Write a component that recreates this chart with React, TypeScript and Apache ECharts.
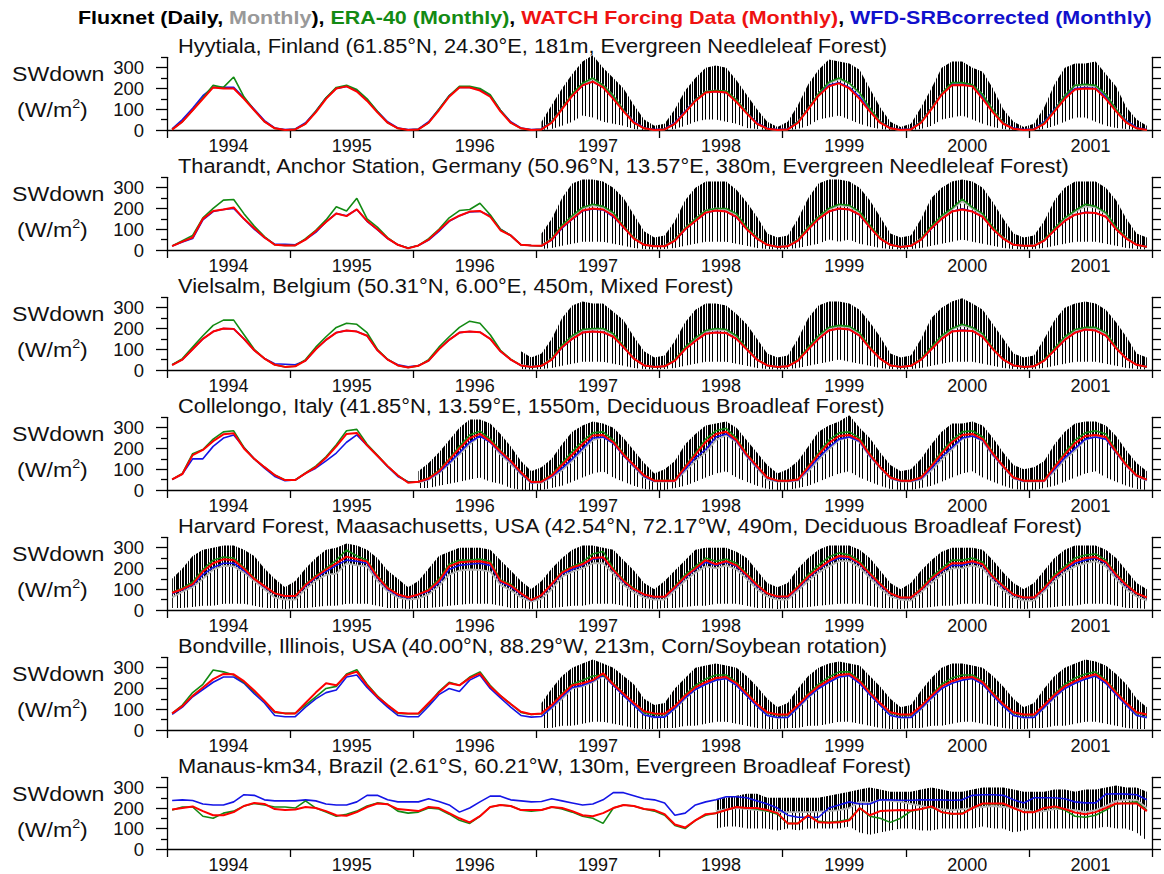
import React, { useEffect, useRef } from "react";
import * as echarts from "echarts";

// ---------- axes ----------
const YEARS = [1994, 1995, 1996, 1997, 1998, 1999, 2000, 2001];
const YEAR_BOUNDS = [1994, 1995, 1996, 1997, 1998, 1999, 2000, 2001, 2002];
const Y_LABELS = [0, 100, 200, 300];
const Y_MINOR = [50, 150, 250, 350];
const Y_RIGHT = [0, 50, 100, 150, 200, 250, 300, 350];

const TITLES = [
  "Hyytiala, Finland (61.85°N, 24.30°E, 181m, Evergreen Needleleaf Forest)",
  "Tharandt, Anchor Station, Germany (50.96°N, 13.57°E, 380m, Evergreen Needleleaf Forest)",
  "Vielsalm, Belgium (50.31°N, 6.00°E, 450m, Mixed Forest)",
  "Collelongo, Italy (41.85°N, 13.59°E, 1550m, Deciduous Broadleaf Forest)",
  "Harvard Forest, Maasachusetts, USA (42.54°N, 72.17°W, 490m, Deciduous Broadleaf Forest)",
  "Bondville, Illinois, USA (40.00°N, 88.29°W, 213m, Corn/Soybean rotation)",
  "Manaus-km34, Brazil (2.61°S, 60.21°W, 130m, Evergreen Broadleaf Forest)",
];

// ---------- monthly values, Jan 1994 .. Dec 2001 (one line per year), "-" = no data ----------
// RED = WATCH, GREEN = ERA-40, BLUE = WFD-SRBcorrected, GRAY = Fluxnet monthly,
// HI / LO = range of the Fluxnet daily values within each month
// Hyytiala
const HYY_RED = `
2 40 95 150 205 200 200 150 95 40 8 0
3 30 85 150 200 210 185 140 85 35 8 0
3 35 95 160 205 205 190 160 90 35 8 0
3 35 100 165 215 233 205 150 90 35 8 0
3 30 85 140 180 185 180 135 80 30 6 0
3 35 100 165 210 225 200 150 90 35 8 0
3 35 100 170 215 217 210 150 85 30 6 0
3 30 90 150 195 200 198 150 90 35 8 0`;
const HYY_GREEN = `
3 40 95 155 215 205 255 160 95 40 8 0
3 30 90 155 205 215 195 150 90 35 8 0
3 35 100 165 210 210 200 170 95 35 8 0
3 40 105 175 225 250 215 165 95 35 8 0
3 30 85 145 185 190 188 145 85 30 6 0
3 40 105 175 230 250 225 180 105 40 8 0
3 40 105 175 228 228 218 170 95 35 6 0
3 35 95 165 215 220 215 170 100 40 8 0`;
const HYY_BLUE = `
5 50 105 165 205 205 205 155 100 45 10 2
5 35 90 155 200 210 190 145 90 40 10 2
5 40 100 165 205 205 195 165 95 40 10 2
5 40 105 165 215 232 205 155 95 40 10 2
5 35 90 145 183 185 180 140 85 35 8 2
5 40 105 170 215 228 205 160 95 40 10 2
5 40 105 175 220 220 212 160 90 35 10 2
5 40 100 160 200 205 200 160 95 45 12 2`;
const HYY_GRAY = `
- - - - - - - - - - - -
- - - - - - - - - - - -
- - - - - - - - - - - -
3 40 105 170 220 245 215 165 95 40 8 0
3 35 90 145 185 190 185 145 85 30 6 0
3 40 105 175 225 245 225 175 100 40 8 0
3 40 105 175 225 225 215 170 95 35 6 0
3 35 95 165 215 215 210 170 100 40 8 0`;
const HYY_HI = `
- - - - - - - - - - - -
- - - - - - - - - - - -
- - - - - - - - - - - -
40 120 200 270 330 360 300 250 200 120 50 20
30 100 190 250 300 310 300 240 170 100 40 15
40 120 220 290 340 330 320 290 200 110 40 15
30 110 200 300 330 330 300 280 200 100 40 15
30 110 220 300 320 320 330 270 210 110 50 20`;
const HYY_LO = `
- - - - - - - - - - - -
- - - - - - - - - - - -
- - - - - - - - - - - -
0 5 20 40 70 60 40 30 20 5 0 0
0 5 20 40 50 50 40 30 10 5 0 0
0 5 20 50 60 70 50 30 15 5 0 0
0 5 20 50 60 70 50 30 15 5 0 0
0 5 20 40 60 60 40 20 10 5 0 0`;

// Tharandt
const THA_RED = `
19 40 60 150 188 195 205 150 105 60 25 22
22 50 90 135 176 163 196 140 100 56 25 8
22 50 95 140 165 185 188 160 95 70 25 22
20 50 110 150 190 200 195 165 110 55 25 18
18 45 100 140 180 190 185 160 100 55 25 15
18 45 100 150 185 200 195 170 110 55 25 15
20 50 105 150 185 195 185 160 100 55 25 20
20 45 95 140 170 180 178 160 100 55 25 15`;
const THA_GREEN = `
20 45 70 155 200 240 243 175 115 65 25 22
22 55 95 145 208 188 249 150 110 60 25 10
22 55 100 155 190 195 225 170 100 70 25 22
20 55 120 165 205 220 210 180 115 60 25 18
18 50 105 150 190 200 200 175 110 60 25 15
18 50 110 160 200 220 215 185 120 60 25 15
20 55 115 165 200 245 205 175 110 60 25 20
20 50 105 155 190 220 210 180 110 60 25 15`;
const THA_BLUE = `
19 38 55 145 185 195 200 150 100 60 28 28
25 50 85 135 176 165 195 138 98 55 25 10
22 48 90 138 165 183 186 165 100 70 25 22
20 48 105 148 188 198 193 160 108 55 25 18
18 45 98 140 178 190 185 158 100 55 25 15
18 45 100 148 185 198 195 168 110 55 25 15
20 50 103 150 185 198 185 160 100 55 25 20
20 45 95 140 170 182 178 160 100 55 25 15`;
const THA_GRAY = `
- - - - - - - - - - - -
- - - - - - - - - - - -
- - - - - - - - - - - -
22 55 115 160 200 215 205 175 110 60 25 18
20 50 105 150 190 200 195 170 105 60 25 15
20 50 110 160 195 215 210 180 115 60 25 15
22 55 110 160 195 235 200 170 105 60 25 20
22 50 100 150 185 210 205 175 105 60 25 15`;
const THA_HI = `
- - - - - - - - - - - -
- - - - - - - - - - - -
- - - - - - - - - - - -
80 150 250 320 340 340 330 300 250 170 90 60
70 140 240 300 330 330 330 290 230 160 80 60
70 150 250 320 340 340 330 300 240 160 80 60
70 150 250 300 330 340 330 300 230 150 80 60
70 140 240 300 330 330 330 300 240 150 80 60`;
const THA_LO = `
- - - - - - - - - - - -
- - - - - - - - - - - -
- - - - - - - - - - - -
5 10 20 30 40 40 40 30 20 10 5 3
5 10 20 30 40 40 40 30 20 10 5 3
5 10 20 30 50 40 50 30 20 10 5 3
5 10 20 30 40 50 40 30 20 10 5 3
5 10 20 30 40 40 40 30 20 10 5 3`;

// Vielsalm
const VIE_RED = `
24 50 100 150 185 200 198 150 95 55 25 15
18 45 100 145 180 190 185 165 95 50 22 12
20 45 100 145 180 185 182 150 90 50 22 15
20 50 110 150 180 185 182 160 110 55 22 15
18 45 100 140 175 180 178 150 100 50 22 15
18 45 100 150 190 200 195 165 105 55 22 15
20 50 100 150 185 190 188 160 100 50 22 15
18 45 95 145 180 195 190 165 105 55 25 15`;
const VIE_GREEN = `
25 55 110 165 215 240 240 170 100 55 25 15
18 50 110 160 205 225 220 180 100 52 22 12
20 50 110 160 205 235 225 170 95 52 22 15
20 55 120 165 195 200 200 175 115 55 22 15
18 50 110 155 190 200 195 165 105 52 22 15
18 50 110 165 205 215 210 180 110 55 22 15
20 55 110 165 200 220 205 175 105 52 22 15
18 50 105 160 195 205 205 180 110 55 25 15`;
const VIE_BLUE = `
25 50 100 150 185 200 198 150 95 55 30 28
25 45 100 145 180 190 185 165 95 50 25 15
22 45 100 145 180 185 182 150 90 50 22 15
20 50 108 150 180 185 182 160 108 55 22 15
18 45 100 140 175 182 178 150 100 50 22 15
18 45 100 150 190 200 195 165 105 55 22 15
20 50 100 150 185 192 188 160 100 50 22 15
18 45 95 145 180 195 190 165 105 55 25 15`;
const VIE_GRAY = `
- - - - - - - - - - - -
- - - - - - - - - - - -
- - - - - - - - - - 25 15
20 55 115 160 190 195 195 170 112 55 22 15
18 48 105 150 185 195 190 160 102 50 22 15
18 48 105 160 200 210 205 175 108 55 22 15
20 52 105 160 195 215 200 170 102 50 22 15
18 48 100 155 190 200 200 175 108 55 25 15`;
const VIE_HI = `
- - - - - - - - - - - -
- - - - - - - - - - - -
- - - - - - - - - - 90 60
80 150 250 310 330 320 320 280 240 160 90 60
70 140 230 290 320 320 310 270 220 150 80 60
70 150 250 310 330 330 320 290 230 160 80 60
70 150 250 300 330 345 320 290 220 150 80 60
70 150 240 300 320 330 320 290 230 160 80 60`;
const VIE_LO = `
- - - - - - - - - - - -
- - - - - - - - - - - -
- - - - - - - - - - 5 3
5 10 20 30 40 40 40 30 20 10 5 3
5 10 20 30 40 40 40 30 20 10 5 3
5 10 20 30 40 50 40 30 20 10 5 3
5 10 20 30 40 40 40 30 20 10 5 3
5 10 20 30 40 40 40 30 20 10 5 3`;

// Collelongo
const COL_RED = `
51 77 168 193 235 268 273 200 150 110 72 48
48 80 110 155 210 270 275 215 165 115 70 35
40 55 90 145 200 250 270 235 185 140 85 38
40 70 120 170 220 262 265 230 170 120 70 45
45 45 110 170 230 270 280 240 170 115 60 45
45 50 110 170 225 260 265 240 170 110 60 45
45 60 115 175 230 265 270 245 175 115 60 45
45 45 110 170 225 260 265 255 185 120 70 50`;
const COL_GREEN = `
51 80 175 195 245 280 285 205 150 110 72 48
48 82 115 160 218 285 292 220 168 115 70 38
40 58 95 150 210 265 283 245 190 140 85 40
42 75 130 185 235 275 280 240 175 120 70 45
45 48 115 180 245 285 297 250 175 115 60 45
45 52 115 180 240 275 280 250 175 110 62 45
45 62 120 185 240 280 285 255 180 115 62 45
45 48 115 180 240 275 285 270 190 125 72 50`;
const COL_BLUE = `
50 77 150 150 210 250 265 205 150 105 65 45
48 80 105 140 178 230 265 215 165 112 65 40
40 52 85 130 180 230 260 230 180 135 80 35
40 65 105 150 200 250 255 225 165 115 65 42
42 45 100 155 195 255 270 235 165 110 58 42
42 48 100 155 205 245 255 235 165 108 58 42
42 55 105 160 205 250 260 240 170 112 58 42
42 45 100 155 200 245 255 245 180 118 68 48`;
const COL_GRAY = `
- - - - - - - - - - - -
- - - - - - - - - - - -
35 50 80 125 170 220 260 230 170 125 75 35
35 60 95 140 190 240 255 225 165 110 60 40
40 42 90 140 180 240 265 230 160 105 50 40
40 45 90 145 195 240 255 230 160 105 55 40
40 50 95 145 195 245 260 235 165 110 55 40
40 42 90 145 190 240 260 245 180 115 65 45`;
const COL_HI = `
- - - - - - - - - - - -
- - - - - - - - - - - -
90 130 180 240 300 340 340 320 270 210 140 90
110 150 220 280 310 330 320 300 250 190 130 80
100 140 220 270 310 320 330 300 240 180 120 80
100 140 210 280 310 330 360 300 250 180 120 90
100 150 220 280 320 320 330 310 250 180 120 100
110 140 220 280 320 330 330 310 260 190 130 90`;
const COL_LO = `
- - - - - - - - - - - -
- - - - - - - - - - - -
10 10 20 30 40 50 60 40 30 10 0 0
0 10 20 40 60 80 90 60 40 20 5 0
0 10 20 40 60 80 90 60 40 20 5 0
0 10 20 40 60 80 90 60 40 20 5 0
0 10 20 40 60 80 90 60 40 20 5 0
0 10 20 40 60 80 90 60 40 20 5 0`;

// Harvard Forest
const HAR_RED = `
83 100 125 185 225 244 240 200 150 115 80 67
67 120 160 195 225 257 245 233 160 105 75 61
75 95 140 210 230 233 235 225 140 118 80 48
72 125 180 205 220 250 254 193 140 100 75 64
64 110 160 200 240 220 235 215 170 120 80 65
65 110 160 200 235 260 255 225 175 125 80 60
60 100 150 190 225 225 235 220 160 115 75 60
60 105 160 200 235 250 255 230 170 120 80 60`;
const HAR_GREEN = `
85 105 135 195 240 255 250 205 155 115 80 67
67 125 165 200 240 289 260 240 165 110 75 61
75 100 150 220 240 240 245 235 145 125 80 48
72 128 185 210 230 270 282 200 145 105 75 64
64 115 170 210 250 235 245 225 175 125 80 65
65 115 170 215 255 275 265 235 180 130 80 60
60 105 160 200 240 240 250 230 165 120 75 60
60 110 170 210 250 265 270 240 175 125 80 60`;
const HAR_BLUE = `
80 98 120 170 205 225 225 190 150 110 78 65
65 115 155 185 215 240 235 225 155 100 70 58
72 90 130 195 215 220 225 215 135 112 75 46
70 120 175 195 215 245 250 190 135 98 72 60
62 105 155 195 230 215 230 210 165 115 78 62
62 105 155 195 230 250 250 220 170 120 78 58
58 98 145 185 215 215 230 215 155 110 72 58
58 100 155 195 225 240 250 225 165 115 78 58`;
const HAR_GRAY = `
60 88 110 150 195 212 210 180 140 100 60 50
50 100 140 169 175 225 215 210 140 90 60 50
55 75 115 170 190 195 193 185 120 95 60 40
55 100 160 185 200 225 225 175 120 85 60 50
50 95 140 180 210 200 215 195 150 100 65 50
50 95 140 180 210 235 235 205 155 105 65 50
45 85 130 170 200 200 215 200 140 95 60 45
45 90 140 180 210 225 235 210 150 100 65 45`;
const HAR_HI = `
150 200 260 290 300 310 310 290 260 200 150 110
140 200 250 290 300 320 310 290 250 190 150 110
140 200 260 280 300 300 300 290 240 190 140 100
140 200 250 290 310 310 300 290 240 190 130 100
140 190 240 290 300 300 300 280 250 190 130 110
130 200 250 290 310 310 310 290 250 190 130 100
130 190 240 280 300 300 300 290 240 180 130 100
130 190 250 290 310 310 310 290 250 190 130 100`;
const HAR_LO = `
10 10 15 20 20 30 30 30 20 10 10 5
10 10 15 20 20 30 30 30 20 10 10 5
10 10 15 20 25 30 30 30 20 10 10 5
10 10 15 20 20 30 30 30 20 10 10 5
10 10 15 20 20 30 30 30 20 10 10 5
10 10 15 20 25 30 30 30 20 10 10 5
10 10 15 20 20 30 30 30 20 10 10 5
10 10 15 20 20 30 30 30 20 10 10 5`;

// Bondville
const BON_RED = `
80 115 165 205 245 270 268 235 190 140 88 80
80 130 180 225 215 265 281 215 160 120 83 80
80 130 180 225 215 250 273 209 165 125 88 76
80 120 170 215 225 240 273 220 175 130 90 80
78 115 165 205 230 250 255 225 175 125 85 75
75 120 170 210 240 265 270 235 180 130 85 75
75 115 165 210 235 250 255 230 175 125 85 75
75 120 170 210 235 255 268 235 180 130 85 75`;
const BON_GREEN = `
80 120 180 220 289 280 265 230 185 140 85 80
80 120 160 200 210 270 290 220 165 120 80 78
78 125 185 230 215 255 280 215 165 125 85 75
78 120 175 220 240 260 265 225 175 130 85 75
75 115 170 215 245 265 265 230 180 125 82 72
72 120 175 220 255 280 280 240 185 130 82 72
72 115 170 220 250 265 265 235 180 125 82 72
72 120 175 220 250 270 280 240 185 130 82 72`;
const BON_BLUE = `
75 110 160 195 230 255 255 225 175 130 70 64
64 110 150 180 193 255 265 205 155 110 70 64
64 115 170 200 185 240 265 200 155 110 70 62
65 110 160 205 215 235 265 215 165 120 72 62
62 105 155 195 220 240 248 215 165 115 70 60
60 110 160 200 230 255 262 225 170 120 70 60
60 105 155 200 225 240 248 220 165 115 70 60
60 110 160 200 225 245 260 225 170 120 70 60`;
const BON_GRAY = `
- - - - - - - - - - - -
- - - - - - - - - - - -
- - - - - - - - - - - -
70 105 150 200 210 230 260 215 165 120 75 60
65 100 150 195 220 240 250 215 165 115 72 58
62 105 155 200 230 255 265 225 170 120 72 58
62 100 150 200 225 245 250 220 165 115 72 58
62 105 155 200 225 250 262 225 170 120 72 58`;
const BON_HI = `
- - - - - - - - - - - -
- - - - - - - - - - - -
- - - - - - - - - - - -
130 200 260 300 320 340 320 300 260 220 150 120
130 200 250 300 310 320 310 300 260 210 150 110
130 200 260 300 320 330 320 310 260 210 150 110
120 190 250 300 320 320 310 300 260 210 150 110
130 200 260 300 320 340 330 310 270 220 150 110`;
const BON_LO = `
- - - - - - - - - - - -
- - - - - - - - - - - -
- - - - - - - - - - - -
10 10 20 20 30 40 40 30 20 10 5 5
10 10 20 20 30 40 40 30 20 10 5 5
10 10 20 20 30 40 40 30 20 10 5 5
10 10 20 20 30 40 40 30 20 10 5 5
10 10 20 20 30 40 40 30 20 10 5 5`;

// Manaus
const MAN_RED = `
193 200 208 185 165 165 180 210 225 220 195 190
193 205 200 185 165 162 180 205 222 218 195 190
185 205 200 175 150 130 160 205 215 210 190 190
190 205 200 185 165 160 175 200 215 210 195 190
170 120 105 140 170 175 190 205 200 200 190 175
125 125 165 130 128 130 140 200 165 185 188 190
188 195 208 180 172 172 200 222 222 222 200 180
180 200 208 195 178 170 180 200 222 222 222 185`;
const MAN_GREEN = `
190 205 205 160 150 175 185 210 222 215 205 205
200 235 200 180 160 170 185 210 225 220 185 175
180 200 195 170 140 125 160 205 215 210 190 185
190 205 195 180 160 150 125 200 215 210 195 185
165 115 100 140 165 175 190 205 200 195 185 170
125 125 165 135 130 135 145 200 160 150 130 150
185 195 205 180 170 175 200 220 220 220 200 180
180 200 205 190 160 155 165 190 220 225 230 190`;
const MAN_BLUE = `
237 240 237 220 215 215 230 265 262 240 235 235
235 240 235 220 215 215 230 262 262 240 230 230
230 245 232 215 180 200 230 258 258 240 235 230
232 245 235 225 215 220 240 275 275 260 245 240
225 165 175 215 230 240 255 255 250 235 220 200
165 155 155 155 200 215 230 220 220 240 240 238
238 240 240 240 238 240 262 265 265 262 240 225
250 250 250 245 230 225 225 268 270 268 265 240`;
const MAN_GRAY = `
- - - - - - - - - - - -
- - - - - - - - - - - -
- - - - - - - - - - - -
- - - - - - - - - - - -
- - - - - 185 195 200 195 190 185 180
180 180 180 182 185 190 200 230 225 240 235 230
220 210 200 195 190 195 200 205 210 205 200 195
180 185 195 195 190 180 190 210 235 240 240 200`;
const MAN_HI = `
- - - - - - - - - - - -
- - - - - - - - - - - -
- - - - - - - - - - - -
- - - - - - - - - - - -
- - - - - 240 250 260 270 270 250 250
250 250 250 250 260 270 280 290 300 290 280 280
280 290 300 290 280 280 290 300 300 300 290 280
280 280 290 290 280 290 290 300 310 300 300 280`;
const MAN_LO = `
- - - - - - - - - - - -
- - - - - - - - - - - -
- - - - - - - - - - - -
- - - - - - - - - - - -
- - - - - 100 110 110 100 100 100 90
100 90 100 100 100 100 110 80 70 80 90 100
100 90 90 100 100 100 100 110 100 100 80 90
100 100 100 100 100 100 100 110 100 100 80 40`;

const PANEL_DATA = [
  [HYY_RED, HYY_GREEN, HYY_BLUE, HYY_GRAY, HYY_HI, HYY_LO],
  [THA_RED, THA_GREEN, THA_BLUE, THA_GRAY, THA_HI, THA_LO],
  [VIE_RED, VIE_GREEN, VIE_BLUE, VIE_GRAY, VIE_HI, VIE_LO],
  [COL_RED, COL_GREEN, COL_BLUE, COL_GRAY, COL_HI, COL_LO],
  [HAR_RED, HAR_GREEN, HAR_BLUE, HAR_GRAY, HAR_HI, HAR_LO],
  [BON_RED, BON_GREEN, BON_BLUE, BON_GRAY, BON_HI, BON_LO],
  [MAN_RED, MAN_GREEN, MAN_BLUE, MAN_GRAY, MAN_HI, MAN_LO],
];

const parse = (s: string): (number | null)[] =>
  s.trim().split(/\s+/).map((v) => (v === "-" ? null : Number(v)));

const monthT = (i: number) => 1994 + (i + 0.5) / 12;

const monthly = (vals: (number | null)[]) => {
  const out: number[][] = [];
  vals.forEach((v, i) => {
    if (v != null) out.push([monthT(i), v]);
  });
  return out;
};

// band of the daily Fluxnet values: [t, lo, mean, hi] per month
const dailyRange = (hi: (number | null)[], mid: (number | null)[], lo: (number | null)[]) => {
  const out: number[][] = [];
  hi.forEach((h, i) => {
    const l = lo[i];
    const m = mid[i];
    if (h != null && l != null && m != null) out.push([monthT(i), l, m, h]);
  });
  return out;
};

const FONT = "'Liberation Sans', Arial, Helvetica, sans-serif";
const C_GRAY = "#b4b4b4";
const C_GREEN = "#138a13";
const C_RED = "#ff0000";
const C_BLUE = "#1414e6";

const PX_PER_UNIT = 0.2077;
const Y_MAX = 350;

// vertical-stripe texture (irregular columns) used to render the dense daily spikes
const stripePattern = (cols: number[]) => {
  const c = document.createElement("canvas");
  c.width = cols.length;
  c.height = 4;
  const ctx = c.getContext("2d");
  if (ctx) {
    ctx.fillStyle = "#000";
    cols.forEach((on, i) => {
      if (on) ctx.fillRect(i, 0, 1, 4);
    });
  }
  return { image: c.toDataURL(), repeat: "repeat", imageWidth: cols.length, imageHeight: 4 };
};

export default function App() {
  const ref = useRef<HTMLDivElement>(null);
  useEffect(() => {
    if (!ref.current) return;
    const chart = echarts.init(ref.current, undefined, { renderer: "svg" });
    const densePat = stripePattern([1, 1, 0, 1, 1, 0, 1, 0, 1, 1, 1, 0, 1, 0]);
    const sparsePat = stripePattern([1, 0, 0, 0, 1, 0, 0, 1, 0, 0, 0, 0, 1, 0, 0]);
    const grids: any[] = [];
    const xAxes: any[] = [];
    const yAxes: any[] = [];
    const series: any[] = [];
    const graphics: any[] = [];

    PANEL_DATA.forEach((p, k) => {
      const y0 = 130 + 120 * k;
      const h = Y_MAX * PX_PER_UNIT;
      grids.push({ left: 167, right: 12, top: y0 - h, height: h });
      xAxes.push({
        type: "value",
        gridIndex: k,
        min: 1994,
        max: 2002,
        interval: 1,
        axisLine: { show: true, onZero: false, lineStyle: { color: "#000", width: 1.3 } },
        axisTick: { show: true, customValues: YEAR_BOUNDS, length: 8, lineStyle: { color: "#000", width: 1.3 } },
        axisLabel: {
          show: true,
          customValues: YEARS.map((y) => y + 0.5),
          formatter: (v: number) => String(Math.floor(v)),
          fontFamily: FONT,
          fontSize: 18,
          color: "#111",
          margin: 7,
        },
        splitLine: { show: false },
      });
      yAxes.push({
        type: "value",
        gridIndex: k,
        position: "left",
        min: 0,
        max: Y_MAX,
        interval: 50,
        axisLine: { show: true, lineStyle: { color: "#000", width: 1.3 } },
        axisTick: { show: true, customValues: Y_LABELS, length: 11, lineStyle: { color: "#000", width: 1.3 } },
        axisLabel: {
          show: true,
          customValues: Y_LABELS,
          fontFamily: FONT,
          fontSize: 18.5,
          color: "#111",
          margin: 23,
        },
        splitLine: { show: false },
      });
      yAxes.push({
        type: "value",
        gridIndex: k,
        position: "left",
        min: 0,
        max: Y_MAX,
        interval: 50,
        axisLine: { show: false },
        axisTick: { show: true, customValues: Y_MINOR, length: 6, lineStyle: { color: "#000", width: 1.3 } },
        axisLabel: { show: false },
        splitLine: { show: false },
      });
      yAxes.push({
        type: "value",
        gridIndex: k,
        position: "right",
        min: 0,
        max: Y_MAX,
        interval: 50,
        axisLine: { show: true, lineStyle: { color: "#000", width: 1.3 } },
        axisTick: { show: true, customValues: Y_RIGHT, length: 9, lineStyle: { color: "#000", width: 1.3 } },
        axisLabel: { show: false },
        splitLine: { show: false },
      });

      const [red, green, blue, gray, hi, lo] = p.map(parse);
      const yi = k * 3;
      const base = { type: "line", xAxisIndex: k, yAxisIndex: yi, symbol: "none", silent: true };
      const band = dailyRange(hi, gray, lo);
      series.push({
        type: "custom",
        xAxisIndex: k,
        yAxisIndex: yi,
        silent: true,
        z: 1,
        data: band,
        encode: { x: 0, y: [1, 2, 3] },
        renderItem: (params: any, api: any) => {
          if (params.dataIndex !== 0) return null;
          const children: any[] = [];
          const runs: number[][][] = [];
          let cur: number[][] = [];
          band.forEach((d, j) => {
            if (j > 0 && d[0] - band[j - 1][0] > 0.1) {
              runs.push(cur);
              cur = [];
            }
            cur.push(d);
          });
          if (cur.length) runs.push(cur);
          runs.forEach((run) => {
            const top = run.map((d) => api.coord([d[0], d[3]]));
            const mid = run.map((d) => api.coord([d[0], d[2]]));
            const bot = run.map((d) => api.coord([d[0], d[1]]));
            children.push({
              type: "polygon",
              shape: { points: mid.concat(bot.slice().reverse()) },
              style: { fill: sparsePat },
            });
            children.push({
              type: "polygon",
              shape: { points: top.concat(mid.slice().reverse()) },
              style: { fill: densePat },
            });
          });
          return { type: "group", children };
        },
      });
      series.push({ ...base, data: monthly(gray), lineStyle: { color: C_GRAY, width: 1.8 }, z: 2 });
      series.push({ ...base, data: monthly(blue), lineStyle: { color: C_BLUE, width: 1.6 }, z: 3 });
      series.push({ ...base, data: monthly(green), lineStyle: { color: C_GREEN, width: 1.6 }, z: 4 });
      series.push({ ...base, data: monthly(red), lineStyle: { color: C_RED, width: 2 }, z: 5 });

      graphics.push({
        type: "text",
        x: 178,
        y: y0 - 84,
        scaleX: 1.12,
        style: { text: TITLES[k], font: `19.5px ${FONT}`, fill: "#111", textVerticalAlign: "middle", verticalAlign: "middle" },
      });
      graphics.push({
        type: "text",
        x: 12,
        y: y0 - 56,
        scaleX: 1.1,
        style: { text: "SWdown", font: `21px ${FONT}`, fill: "#111", textVerticalAlign: "middle", verticalAlign: "middle" },
      });
      graphics.push({
        type: "text",
        x: 17,
        y: y0 - 33,
        scaleX: 1.1,
        style: {
          text: "{a|(W/m}{s|2}{a|)}",
          rich: {
            a: { font: `21px ${FONT}`, fill: "#111", verticalAlign: "bottom" },
            s: { font: `13px ${FONT}`, fill: "#111", verticalAlign: "top", padding: [0, 0, 10, 0] },
          },
        },
      });
    });

    graphics.push({
      type: "text",
      x: 78,
      y: 17,
      scaleX: 1.13,
      style: {
        text:
          "{k|Fluxnet (Daily, }{g|Monthly}{k|), }{e|ERA-40 (Monthly)}{k|, }{r|WATCH Forcing Data (Monthly)}{k|, }{b|WFD-SRBcorrected (Monthly)}",
        verticalAlign: "middle",
        textVerticalAlign: "middle",
        rich: {
          k: { font: `bold 19px ${FONT}`, fill: "#000" },
          g: { font: `bold 19px ${FONT}`, fill: "#999" },
          e: { font: `bold 19px ${FONT}`, fill: C_GREEN },
          r: { font: `bold 19px ${FONT}`, fill: "#ee1111" },
          b: { font: `bold 19px ${FONT}`, fill: "#1010cc" },
        },
      },
    });

    chart.setOption({
      animation: false,
      backgroundColor: "#fff",
      grid: grids,
      xAxis: xAxes,
      yAxis: yAxes,
      series,
      graphic: graphics,
    });
    return () => chart.dispose();
  }, []);
  return (
    <div
      ref={ref}
      style={{ position: "absolute", left: 0, top: 0, width: 1164, height: 874 }}
    />
  );
}
